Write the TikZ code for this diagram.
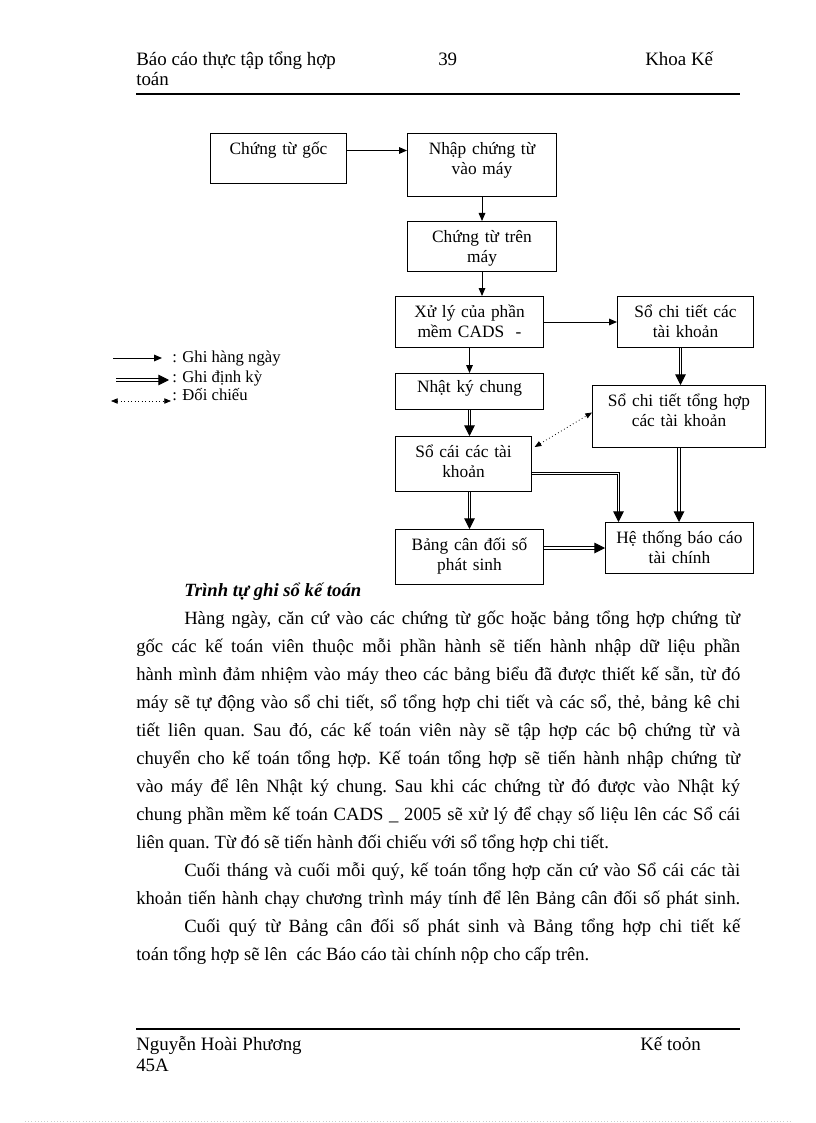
\documentclass[tikz,border=0pt]{standalone}
\usepackage{fontspec}
\setmainfont{Liberation Serif}
\usetikzlibrary{arrows.meta, positioning, calc}

\newcommand{\diagfont}{\fontsize{13}{15}\selectfont}
\newcommand{\legendfont}{\fontsize{12.5}{14}\selectfont}
\newcommand{\bodyfont}{\fontsize{14}{21}\selectfont}
\newcommand{\pagefont}{\fontsize{14.2}{16}\selectfont}

\begin{document}
\begin{tikzpicture}[
    x=0.75pt, y=-0.75pt,
    box/.style={draw, line width=0.75pt, inner sep=0pt, anchor=north west,
                align=center, font=\diagfont, text height=15.75pt},
    txt/.style={inner sep=0pt, anchor=base west, font=\pagefont},
    arrow/.style={-{Triangle[length=6pt,width=5pt]}, line width=0.75pt},
    dblarrow/.style={double, double distance=1.1pt, line width=0.7pt,
                     -{Triangle[length=8pt,width=8pt]}},
    dotarrow/.style={{Triangle[length=5pt,width=4pt]}-{Triangle[length=5pt,width=4pt]},
                     dotted, line width=0.6pt}
  ]
    \useasboundingbox (0,0) rectangle (816,1123);

    % header
    \node[txt] (hdrtitle) at (136,66) {Báo cáo thực tập tổng hợp};
    \node[txt] (hdrtitle2) at (136,86) {toán};
    \node[txt] (pageno) at (438,66) {39};
    \node[txt] (hdrdept) at (645,66) {Khoa Kế};
    \draw[line width=1.8pt] (136,94) -- (740,94);

    % flow chart
    \node[box, text width=102pt, text depth=21.75pt] (goc) at (210,133) {Chứng từ gốc};
    \node[box, text width=111.75pt, text depth=31.5pt] (nhap) at (407,133) {Nhập chứng từ\\vào máy};
    \node[box, text width=111.75pt, text depth=21.75pt] (trenmay) at (407,221) {Chứng từ trên\\máy};
    \node[box, text width=111pt, text depth=22.5pt] (xuly) at (395,296) {Xử lý của phần\\mềm CADS \ -};
    \node[box, text width=102pt, text depth=22.5pt] (chitiet) at (617,296) {Sổ chi tiết các\\tài khoản};
    \node[box, text width=111pt, text height=14.25pt, text depth=12.75pt] (nkc) at (395,373) {Nhật ký chung};
    \node[box, text width=129.75pt, text depth=30.75pt] (tonghop) at (592,385) {Sổ chi tiết tổng hợp\\các tài khoản};
    \node[box, text width=102pt, text depth=25.5pt] (socai) at (395,436) {Sổ cái các tài\\khoản};
    \node[box, text width=111pt, text depth=25.5pt] (bangcd) at (395,529) {Bảng cân đối số\\phát sinh};
    \node[box, text width=111pt, text depth=22.5pt] (baocao) at (605,522) {Hệ thống báo cáo\\tài chính};

    \draw[arrow] ([yshift=6pt]goc.east) -- ([yshift=6pt]goc.east -| nhap.west);
    \draw[arrow] (nhap.south) -- (trenmay.north);
    \draw[arrow] (trenmay.south) -- (trenmay.south |- xuly.north);
    \draw[arrow] (xuly.east) -- (chitiet.west);
    \draw[arrow] (bangcd.north |- xuly.south) -- (nkc.north -| bangcd.north);
    \draw[dblarrow] (bangcd.north |- nkc.south) -- (bangcd.north |- socai.north);
    \draw[dblarrow] (bangcd.north |- socai.south) -- (bangcd.north);
    \draw[dblarrow] ([xshift=-3.75pt]chitiet.south) -- ([xshift=-3.75pt]chitiet.south |- tonghop.north);
    \draw[dblarrow] (tonghop.south) -- (tonghop.south |- baocao.north);
    \draw[dblarrow] ([yshift=-7pt]socai.east) -| ([xshift=-45.75pt]baocao.north);
    \draw[dblarrow] (bangcd.east |- baocao.west) -- (baocao.west);
    \draw[dotarrow] ([xshift=2pt,yshift=-8.25pt]socai.north east) -- ([yshift=3pt]tonghop.west);

    % legend
    \node[txt, font=\legendfont] (lgdaily) at (172,362) {: Ghi hàng ngày};
    \node[txt, font=\legendfont] (lgperiod) at (172,382) {: Ghi định kỳ};
    \node[txt, font=\legendfont] (lgcheck) at (172,400) {: Đối chiếu};
    \coordinate (lgdailyA) at (113,358);
    \coordinate (lgdailyB) at (162,358);
    \coordinate (lgperiodA) at (116,380);
    \coordinate (lgperiodB) at (169,380);
    \coordinate (lgcheckA) at (111,401);
    \coordinate (lgcheckB) at (171,401);
    \draw[arrow] (lgdailyA) -- (lgdailyB);
    \draw[dblarrow] (lgperiodA) -- (lgperiodB);
    \draw[dotarrow] (lgcheckA) -- (lgcheckB);

    % body text
    \node[txt, text width=453pt, align=justify, font=\bodyfont] (body) at (136,596) {%
      \frenchspacing \hyphenpenalty=10000 \tolerance=9999 \emergencystretch=20pt
      \hspace*{36pt}\textbf{\textit{Trình tự ghi sổ kế toán}}\par
      \hspace*{36pt}Hàng ngày, căn cứ vào các chứng từ gốc hoặc bảng tổng hợp chứng từ\linebreak
      gốc các kế toán viên thuộc mỗi phần hành sẽ tiến hành nhập dữ liệu phần\linebreak
      hành mình đảm nhiệm vào máy theo các bảng biểu đã được thiết kế sẵn, từ đó\linebreak
      máy sẽ tự động vào sổ chi tiết, sổ tổng hợp chi tiết và các sổ, thẻ, bảng kê chi\linebreak
      tiết liên quan. Sau đó, các kế toán viên này sẽ tập hợp các bộ chứng từ và\linebreak
      chuyển cho kế toán tổng hợp. Kế toán tổng hợp sẽ tiến hành nhập chứng từ\linebreak
      vào máy để lên Nhật ký chung. Sau khi các chứng từ đó được vào Nhật ký\linebreak
      chung phần mềm kế toán CADS \_ 2005 sẽ xử lý để chạy số liệu lên các Sổ cái\linebreak
      liên quan. Từ đó sẽ tiến hành đối chiếu với sổ tổng hợp chi tiết.\par
      {\parfillskip=0pt
      \hspace*{36pt}Cuối tháng và cuối mỗi quý, kế toán tổng hợp căn cứ vào Sổ cái các tài\linebreak
      khoản tiến hành chạy chương trình máy tính để lên Bảng cân đối số phát sinh.\par}
      \hspace*{36pt}Cuối quý từ Bảng cân đối số phát sinh và Bảng tổng hợp chi tiết kế\linebreak
      toán tổng hợp sẽ lên \ các Báo cáo tài chính nộp cho cấp trên.};

    % footer
    \draw[line width=1.8pt] (136,1029) -- (740,1029);
    \node[txt] (author) at (136,1050) {Nguyễn Hoài Phương};
    \node[txt] (authorclass) at (136,1071) {45A};
    \node[txt] (ftdept) at (640,1050) {Kế toỏn};
    \draw[gray!40, dotted] (25,1121) -- (790,1121);
  \end{tikzpicture}
\end{document}
